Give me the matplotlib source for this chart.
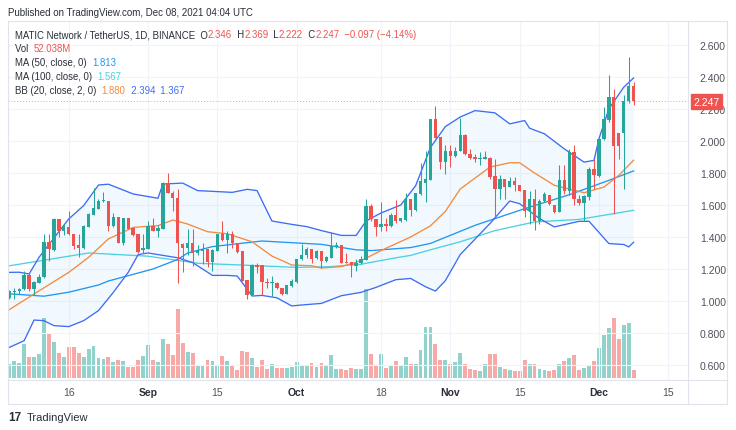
import numpy as np
import pandas as pd
import matplotlib
matplotlib.use("Agg")
import matplotlib.pyplot as plt
from matplotlib.lines import Line2D

plt.rcParams['font.family'] = ['Liberation Sans', 'DejaVu Sans']

# ---------------- data ----------------
dates = pd.date_range("2021-08-04", "2021-12-08", freq="D")

opens = [1.02, 1.055, 1.06, 1.073, 1.163, 1.073, 1.115, 1.15, 1.369, 1.317,
         1.51, 1.44, 1.465, 1.417, 1.35, 1.333, 1.46, 1.54, 1.577, 1.625,
         1.625, 1.47, 1.527, 1.365, 1.517, 1.458, 1.417, 1.317, 1.327, 1.469,
         1.44, 1.452, 1.735, 1.677, 1.642, 1.358, 1.329, 1.365, 1.30, 1.31,
         1.323, 1.244, 1.313, 1.417, 1.381, 1.417, 1.36, 1.31, 1.13, 1.038,
         1.225, 1.223, 1.12, 1.11, 1.115, 1.08, 1.046, 1.094, 1.119, 1.26,
         1.29, 1.323, 1.27, 1.311, 1.253, 1.27, 1.34, 1.35, 1.244, 1.242,
         1.217, 1.238, 1.259, 1.595, 1.512, 1.46, 1.48, 1.47, 1.537, 1.50,
         1.508, 1.637, 1.57, 1.668, 1.735, 1.754, 2.138, 2.024, 1.868, 1.94,
         1.905, 1.94, 2.04, 1.92, 1.90, 1.888, 1.89, 1.893, 1.781, 1.702,
         1.76, 1.714, 1.753, 1.728, 1.696, 1.56, 1.635, 1.498, 1.625, 1.665,
         1.60, 1.556, 1.754, 1.685, 1.93, 1.64, 1.615, 1.65, 1.822, 1.78,
         2.01, 2.13, 2.274, 2.05, 2.05, 2.252, 2.346]
highs = [1.07, 1.08, 1.083, 1.19, 1.177, 1.125, 1.167, 1.42, 1.417, 1.52,
         1.51, 1.48, 1.56, 1.417, 1.417, 1.473, 1.552, 1.704, 1.635, 1.683,
         1.625, 1.552, 1.527, 1.517, 1.521, 1.458, 1.417, 1.417, 1.50, 1.517,
         1.475, 1.744, 1.80, 1.69, 1.698, 1.36, 1.448, 1.448, 1.35, 1.36,
         1.323, 1.323, 1.417, 1.50, 1.438, 1.438, 1.36, 1.31, 1.13, 1.229,
         1.24, 1.223, 1.146, 1.154, 1.119, 1.083, 1.10, 1.135, 1.265, 1.354,
         1.337, 1.323, 1.317, 1.315, 1.284, 1.433, 1.37, 1.35, 1.30, 1.246,
         1.263, 1.284, 1.636, 1.605, 1.512, 1.616, 1.52, 1.553, 1.632, 1.52,
         1.678, 1.637, 1.678, 1.861, 1.94, 2.14, 2.22, 2.024, 1.972, 1.972,
         1.96, 2.145, 2.044, 1.95, 1.92, 1.93, 1.935, 1.90, 1.89, 1.785,
         1.76, 1.774, 1.774, 1.728, 1.696, 1.69, 1.70, 1.64, 1.68, 1.665,
         1.60, 1.847, 1.847, 1.947, 1.972, 1.66, 1.66, 1.837, 1.885, 2.02,
         2.21, 2.41, 2.326, 2.05, 2.285, 2.523, 2.369]
lows = [1.01, 1.01, 1.042, 1.069, 1.063, 1.035, 1.11, 1.146, 1.25, 1.313,
        1.40, 1.41, 1.415, 1.325, 1.277, 1.323, 1.46, 1.54, 1.573, 1.619,
        1.438, 1.465, 1.36, 1.348, 1.448, 1.406, 1.302, 1.302, 1.323, 1.438,
        1.40, 1.448, 1.673, 1.56, 1.11, 1.18, 1.29, 1.22, 1.29, 1.23,
        1.21, 1.188, 1.31, 1.375, 1.298, 1.333, 1.302, 1.125, 1.01, 1.036,
        1.177, 1.04, 1.083, 1.031, 1.077, 1.04, 1.042, 1.09, 1.115, 1.256,
        1.27, 1.24, 1.26, 1.205, 1.245, 1.268, 1.33, 1.238, 1.236, 1.149,
        1.19, 1.232, 1.259, 1.502, 1.408, 1.44, 1.44, 1.46, 1.49, 1.494,
        1.502, 1.533, 1.565, 1.664, 1.62, 1.754, 2.02, 1.827, 1.795, 1.84,
        1.90, 1.935, 1.91, 1.89, 1.87, 1.85, 1.89, 1.765, 1.525, 1.64,
        1.64, 1.71, 1.69, 1.685, 1.525, 1.484, 1.446, 1.484, 1.62, 1.60,
        1.552, 1.556, 1.67, 1.66, 1.60, 1.60, 1.50, 1.63, 1.70, 1.775,
        2.005, 2.12, 1.546, 1.89, 1.70, 2.24, 2.222]
closes = [1.06, 1.06, 1.077, 1.163, 1.073, 1.117, 1.15, 1.369, 1.323, 1.51,
          1.44, 1.47, 1.417, 1.344, 1.333, 1.467, 1.546, 1.583, 1.625, 1.629,
          1.469, 1.527, 1.365, 1.517, 1.452, 1.41, 1.308, 1.333, 1.469, 1.44,
          1.458, 1.735, 1.677, 1.642, 1.36, 1.329, 1.365, 1.302, 1.31, 1.323,
          1.244, 1.317, 1.417, 1.381, 1.417, 1.36, 1.306, 1.125, 1.04, 1.225,
          1.215, 1.119, 1.114, 1.115, 1.08, 1.046, 1.098, 1.125, 1.26, 1.29,
          1.323, 1.265, 1.313, 1.253, 1.273, 1.342, 1.35, 1.238, 1.236, 1.222,
          1.238, 1.263, 1.595, 1.512, 1.46, 1.48, 1.47, 1.537, 1.50, 1.516,
          1.637, 1.57, 1.678, 1.751, 1.76, 2.138, 2.02, 1.868, 1.94, 1.905,
          1.94, 2.04, 1.916, 1.895, 1.885, 1.892, 1.90, 1.775, 1.702, 1.76,
          1.712, 1.753, 1.728, 1.69, 1.56, 1.64, 1.498, 1.625, 1.669, 1.608,
          1.556, 1.754, 1.685, 1.93, 1.64, 1.615, 1.656, 1.822, 1.785, 2.014,
          2.14, 2.274, 1.971, 1.971, 2.252, 2.346, 2.247]
volumes_m = [95, 118, 100, 231, 143, 143, 165, 406, 306, 245,
             170, 143, 209, 209, 170, 143, 195, 218, 136, 129,
             141, 109, 124, 118, 73, 75, 124, 152, 222, 124,
             107, 267, 231, 156, 469, 236, 179, 172, 90, 90,
             120, 114, 90, 152, 114, 86, 56, 186, 179, 136,
             77, 124, 63, 95, 70, 66, 66, 73, 109, 86,
             90, 102, 75, 102, 80, 158, 61, 61, 56, 68,
             61, 61, 605, 165, 84, 165, 68, 90, 114, 90,
             141, 95, 97, 192, 347, 347, 233, 120, 120, 97,
             109, 172, 97, 63, 52, 48, 97, 161, 165, 75,
             63, 52, 48, 48, 120, 97, 97, 59, 56, 50,
             56, 93, 116, 136, 158, 56, 70, 80, 114, 206,
             290, 342, 410, 267, 362, 374, 52]

# indicator lines (day index from 2021-08-04, value)
ma50_idx = [0, 7, 12, 18, 20, 29, 34, 36, 41, 51, 63, 70, 73, 81, 85, 94, 104, 113, 121, 126]
ma50_val = [1.045, 1.03, 1.055, 1.10, 1.125, 1.20, 1.26, 1.30, 1.34, 1.375, 1.354, 1.32, 1.315,
            1.334, 1.36, 1.473, 1.577, 1.664, 1.754, 1.813]
ma100_idx = [0, 10, 16, 28, 38, 49, 58, 65, 71, 78, 81, 85, 91, 98, 106, 115, 126]
ma100_val = [1.22, 1.27, 1.30, 1.28, 1.236, 1.222, 1.21, 1.215, 1.23, 1.27, 1.285, 1.32, 1.37,
             1.44, 1.494, 1.51, 1.567]
bb_mid_idx = [0, 5, 12, 16, 20, 25, 30, 33, 36, 40, 44, 49, 53, 57, 61, 63, 67, 71, 75, 81,
              85, 88, 91, 97, 101, 103, 106, 110, 116, 120, 123, 126]
bb_mid_val = [0.946, 1.044, 1.179, 1.273, 1.388, 1.46, 1.471, 1.506, 1.481, 1.433, 1.42, 1.37,
              1.281, 1.225, 1.22, 1.206, 1.215, 1.252, 1.315, 1.40, 1.47, 1.56, 1.70, 1.837,
              1.864, 1.864, 1.80, 1.723, 1.677, 1.712, 1.785, 1.88]
bb_up_idx = [0, 2, 4, 6, 12, 15, 18, 20, 25, 30, 31, 35, 38, 45, 48, 50, 53, 57, 60, 63, 67,
             70, 72, 75, 79, 82, 85, 88, 91, 94, 98, 101, 104, 105, 108, 112, 116, 118, 119,
             121, 124, 126]
bb_up_val = [1.179, 1.18, 1.169, 1.273, 1.513, 1.596, 1.725, 1.73, 1.669, 1.642, 1.731, 1.737,
             1.69, 1.679, 1.698, 1.69, 1.50, 1.479, 1.465, 1.44, 1.41, 1.41, 1.50, 1.55, 1.60,
             1.72, 1.96, 2.09, 2.15, 2.19, 2.176, 2.107, 2.128, 2.08, 2.045, 1.951, 1.868,
             1.879, 2.014, 2.201, 2.336, 2.394]
bb_lo_idx = [0, 3, 5, 7, 9, 12, 15, 18, 21, 24, 26, 28, 32, 34, 37, 39, 41, 44, 46, 47, 49,
             51, 54, 57, 59, 63, 67, 71, 74, 78, 81, 84, 86, 88, 91, 97, 101, 103, 107, 110,
             115, 117, 121, 124, 125, 126]
bb_lo_val = [0.71, 0.752, 0.881, 0.877, 0.846, 0.84, 0.877, 0.94, 1.054, 1.179, 1.29, 1.30,
             1.28, 1.27, 1.24, 1.20, 1.16, 1.16, 1.156, 1.115, 1.031, 1.035, 1.02, 0.969,
             0.975, 0.985, 1.033, 1.054, 1.085, 1.133, 1.141, 1.089, 1.062, 1.127, 1.29,
             1.484, 1.625, 1.608, 1.515, 1.463, 1.498, 1.498, 1.359, 1.353, 1.338, 1.367]

tick_dates = ["2021-08-16", "2021-09-01", "2021-09-15", "2021-10-01", "2021-10-18",
              "2021-11-01", "2021-11-15", "2021-12-01", "2021-12-15"]
tick_labels = ["16", "Sep", "15", "Oct", "18", "Nov", "15", "Dec", "15"]
price_ticks = [0.6, 0.8, 1.0, 1.2, 1.4, 1.6, 1.8, 2.0, 2.2, 2.4, 2.6]
last_price = 2.247

# ---------------- style ----------------
GREEN, RED = '#26a69a', '#ef5350'
VGREEN, VRED = '#92d2cc', '#f7a9a7'
MA50_C, MA100_C = '#2196f3', '#4dd0e1'
BB_C, BASIS_C = '#3d6cf5', '#f58a3c'
DARK = '#2a2e39'
AXTXT = '#50535e'
GRIDC = '#f0f3fa'
BORDER = '#e0e3eb'

W, H = 736, 431
fig = plt.figure(figsize=(W / 100, H / 100), dpi=100)
fig.patch.set_facecolor('white')

def fx(px):
    return px / W

def fy(py):
    return 1 - py / H

L_, R_, T_, B_ = 7.5, 688, 22, 381
pos = [fx(L_), fy(B_), fx(R_) - fx(L_), fy(T_) - fy(B_)]

n = len(closes)
xs = np.arange(n)
x_left = (L_ - 9.3) / 4.955
x_right = (R_ - 9.3) / 4.955

# volume axes (underneath)
axv = fig.add_axes(pos, zorder=0)
axv.set_xlim(x_left, x_right)
vscale = 6.8
axv.set_ylim(-2 * vscale, (B_ - T_ - 2) * vscale)
vcols = [VGREEN if c >= o else VRED for o, c in zip(opens, closes)]
axv.bar(xs, volumes_m, width=0.78, color=vcols, linewidth=0)
axv.axis('off')

# price axes
ax = fig.add_axes(pos, zorder=1, sharex=axv)
ax.patch.set_alpha(0)
ax.set_ylim(2.6 - (B_ - 46) / 160, 2.6 - (T_ - 46) / 160)
ax.set_xlim(x_left, x_right)
for p in price_ticks:
    ax.axhline(p, color=GRIDC, lw=0.8, zorder=0)
day0 = dates[0]
tick_pos = [(pd.Timestamp(d) - day0).days for d in tick_dates]
for tp in tick_pos:
    ax.axvline(tp, color=GRIDC, lw=0.8, zorder=0)

# Bollinger fill
poly_x = list(bb_up_idx) + list(bb_lo_idx[::-1])
poly_y = list(bb_up_val) + list(bb_lo_val[::-1])
ax.fill(poly_x, poly_y, color='#2196f3', alpha=0.055, lw=0, zorder=1)

ax.plot(ma100_idx, ma100_val, color=MA100_C, lw=0.95, zorder=2)
ax.plot(ma50_idx, ma50_val, color=MA50_C, lw=0.95, zorder=2)
ax.plot(bb_mid_idx, bb_mid_val, color=BASIS_C, lw=0.95, zorder=2)
ax.plot(bb_up_idx, bb_up_val, color=BB_C, lw=0.95, zorder=2)
ax.plot(bb_lo_idx, bb_lo_val, color=BB_C, lw=0.95, zorder=2)

# candles
ccols = [GREEN if c >= o else RED for o, c in zip(opens, closes)]
ax.vlines(xs, lows, highs, colors=ccols, lw=0.75, zorder=3)
bottoms = [min(o, c) for o, c in zip(opens, closes)]
heights = [max(abs(c - o), 0.006) for o, c in zip(opens, closes)]
ax.bar(xs, heights, bottom=bottoms, width=0.68, color=ccols, linewidth=0, zorder=4)

# last price dotted line
ax.axhline(last_price, color=RED, lw=0.7, ls=(0, (1, 2)), alpha=0.6, zorder=2)

# axes cosmetics
for s in ax.spines.values():
    s.set_visible(False)
ax.yaxis.tick_right()
ax.set_yticks(price_ticks)
ax.set_yticklabels([f"{p:.3f}" for p in price_ticks])
ax.tick_params(axis='y', length=0, pad=8.5, labelsize=7.5, labelcolor=AXTXT)
ax.set_xticks(tick_pos)
ax.set_xticklabels(tick_labels)
ax.tick_params(axis='x', length=0, pad=5, labelsize=7.5, labelcolor=AXTXT)
for lbl in ax.get_xticklabels():
    if lbl.get_text() in ("Sep", "Oct", "Nov", "Dec"):
        lbl.set_fontweight('bold')
        lbl.set_color(DARK)

# frame lines
frame = [((8, 22), (727, 22)), ((8, 405), (727, 405)), ((8, 22), (8, 405)),
         ((727, 22), (727, 405)), ((8, 381), (727, 381)), ((688, 22), (688, 405))]
for (x0, y0), (x1, y1) in frame:
    fig.add_artist(Line2D([fx(x0), fx(x1)], [fy(y0), fy(y1)], color=BORDER, lw=0.8, zorder=5))

# last price label
fig.text(fx(706.5), fy(102.5), f"{last_price:.3f}", color='white', fontsize=7.5,
         ha='center', va='center', zorder=10,
         bbox=dict(boxstyle='square,pad=0.28', fc=RED, ec=RED))

# header
fig.text(fx(8), fy(13), "Published on TradingView.com, Dec 08, 2021 04:04 UTC",
         color=DARK, fontsize=7.05, ha='left', va='center')

renderer = fig.canvas.get_renderer()

def chain(x_px, y_px, parts, size=6.95):
    x = x_px
    for txt, col in parts:
        t = fig.text(fx(x), fy(y_px), txt, color=col, fontsize=size, ha='left', va='center', zorder=8)
        x += t.get_window_extent(renderer).width

chain(15, 35, [("MATIC Network / TetherUS, 1D, BINANCE  O", DARK), ("2.346", RED),
               ("  H", DARK), ("2.369", RED), ("  L", DARK), ("2.222", RED),
               ("  C", DARK), ("2.247", RED), ("  \u22120.097 (\u22124.14%)", RED)])
chain(15, 49.5, [("Vol  ", DARK), ("52.038M", RED)])
chain(15, 63, [("MA (50, close, 0)  ", DARK), ("1.813", MA50_C)])
chain(15, 77, [("MA (100, close, 0)  ", DARK), ("1.567", MA100_C)])
chain(15, 91, [("BB (20, close, 2, 0)  ", DARK), ("1.880", BASIS_C), ("  2.394", BB_C), ("  1.367", BB_C)])

# footer logo
fig.text(fx(8), fy(418), "17", color=DARK, fontsize=8.5, fontweight='bold', ha='left', va='center')
fig.text(fx(27), fy(418), "TradingView", color=DARK, fontsize=8, ha='left', va='center')

fig.savefig("out.png", dpi=100, facecolor='white')
